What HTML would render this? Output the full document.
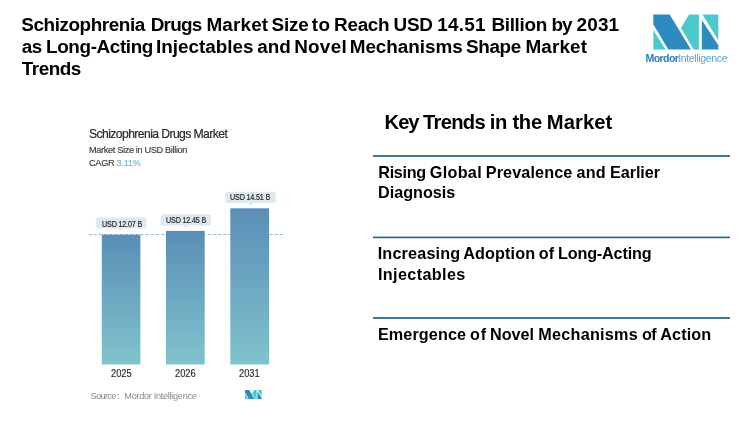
<!DOCTYPE html>
<html>
<head>
<meta charset="utf-8">
<style>
*{margin:0;padding:0;box-sizing:border-box}
html,body{width:750px;height:426px;overflow:hidden;background:#fff}
body{position:relative;font-family:"Liberation Sans",sans-serif}
.a{position:absolute;white-space:nowrap;line-height:1}
.t{font-weight:700;font-size:18.9px;color:#000}
.k{font-weight:700;font-size:20.2px;color:#000;letter-spacing:-0.45px}
.it{font-weight:700;font-size:16.2px;color:#000;left:378.6px}
.sep{position:absolute;left:373px;width:357px;height:2px;background:#3c7b9b}
.lt{position:absolute;font-size:8.6px;color:#2a2a2a;-webkit-text-stroke:0.2px #2a2a2a;line-height:1;letter-spacing:-0.2px;white-space:nowrap;transform:scaleX(0.835);transform-origin:0 0}
.yr{position:absolute;font-size:10px;color:#2a2a2a;-webkit-text-stroke:0.15px #2a2a2a;line-height:1;letter-spacing:0px;transform:scaleX(0.93);transform-origin:0 0}
</style>
</head>
<body>
<div id="wrap" style="position:absolute;left:0;top:0;width:750px;height:426px;will-change:transform">
<!-- Title -->
<span id="t1_0" class="a t" style="left:21.30px;top:15.9px;letter-spacing:-0.429px">Schizophrenia</span>
<span id="t1_1" class="a t" style="left:150.70px;top:15.9px;letter-spacing:-0.724px">Drugs</span>
<span id="t1_2" class="a t" style="left:206.39px;top:15.9px;letter-spacing:0.169px">Market</span>
<span id="t1_3" class="a t" style="left:271.50px;top:15.9px;letter-spacing:-0.212px">Size</span>
<span id="t1_4" class="a t" style="left:311.78px;top:15.9px;letter-spacing:0.340px">to</span>
<span id="t1_5" class="a t" style="left:334.00px;top:15.9px;letter-spacing:-0.260px">Reach</span>
<span id="t1_6" class="a t" style="left:393.40px;top:15.9px;letter-spacing:-0.136px">USD</span>
<span id="t1_7" class="a t" style="left:437.36px;top:15.9px;letter-spacing:0.194px">14.51</span>
<span id="t1_8" class="a t" style="left:491.39px;top:15.9px;letter-spacing:-0.309px">Billion</span>
<span id="t1_9" class="a t" style="left:551.49px;top:15.9px;letter-spacing:-1.000px">by</span>
<span id="t1_10" class="a t" style="left:576.42px;top:15.9px;letter-spacing:0.231px">2031</span>
<span id="t2_0" class="a t" style="left:21.79px;top:38.0px;letter-spacing:-0.636px">as</span>
<span id="t2_1" class="a t" style="left:46.00px;top:38.0px;letter-spacing:-0.382px">Long-Acting</span>
<span id="t2_2" class="a t" style="left:155.96px;top:38.0px;letter-spacing:-0.014px">Injectables</span>
<span id="t2_3" class="a t" style="left:257.35px;top:38.0px;letter-spacing:-0.124px">and</span>
<span id="t2_4" class="a t" style="left:294.17px;top:38.0px;letter-spacing:0.264px">Novel</span>
<span id="t2_5" class="a t" style="left:349.70px;top:38.0px;letter-spacing:-0.034px">Mechanisms</span>
<span id="t2_6" class="a t" style="left:466.05px;top:38.0px;letter-spacing:-0.398px">Shape</span>
<span id="t2_7" class="a t" style="left:525.39px;top:38.0px;letter-spacing:0.145px">Market</span>
<span id="t3_0" class="a t" style="left:21.83px;top:60.1px;letter-spacing:-0.481px">Trends</span>
<span id="k_0" class="a k" style="left:384.56px;top:111.7px;letter-spacing:-1.000px">Key</span>
<span id="k_1" class="a k" style="left:422.97px;top:111.7px;letter-spacing:-0.692px">Trends</span>
<span id="k_2" class="a k" style="left:489.74px;top:111.7px;letter-spacing:-0.354px">in</span>
<span id="k_3" class="a k" style="left:512.44px;top:111.7px;letter-spacing:-0.302px">the</span>
<span id="k_4" class="a k" style="left:546.84px;top:111.7px;letter-spacing:0.064px">Market</span>
<span id="i1a_0" class="a it" style="left:378.27px;top:163.5px;letter-spacing:-0.314px">Rising</span>
<span id="i1a_1" class="a it" style="left:429.79px;top:163.5px;letter-spacing:0.301px">Global</span>
<span id="i1a_2" class="a it" style="left:485.82px;top:163.5px;letter-spacing:0.108px">Prevalence</span>
<span id="i1a_3" class="a it" style="left:576.46px;top:163.5px;letter-spacing:0.192px">and</span>
<span id="i1a_4" class="a it" style="left:610.10px;top:163.5px;letter-spacing:-0.084px">Earlier</span>
<span id="i1b_0" class="a it" style="left:377.98px;top:184.3px;letter-spacing:0.002px">Diagnosis</span>
<span id="i2a_0" class="a it" style="left:377.66px;top:245.3px;letter-spacing:0.180px">Increasing</span>
<span id="i2a_1" class="a it" style="left:463.24px;top:245.3px;letter-spacing:0.117px">Adoption</span>
<span id="i2a_2" class="a it" style="left:538.84px;top:245.3px;letter-spacing:0.024px">of</span>
<span id="i2a_3" class="a it" style="left:557.98px;top:245.3px;letter-spacing:-0.168px">Long-Acting</span>
<span id="i2b_0" class="a it" style="left:377.95px;top:265.9px;letter-spacing:0.376px">Injectables</span>
<span id="i3_0" class="a it" style="left:377.98px;top:325.7px;letter-spacing:0.102px">Emergence</span>
<span id="i3_1" class="a it" style="left:470.04px;top:325.7px;letter-spacing:0.800px">of</span>
<span id="i3_2" class="a it" style="left:489.98px;top:325.7px;letter-spacing:0.004px">Novel</span>
<span id="i3_3" class="a it" style="left:538.27px;top:325.7px;letter-spacing:0.256px">Mechanisms</span>
<span id="i3_4" class="a it" style="left:642.04px;top:325.7px;letter-spacing:-0.784px">of</span>
<span id="i3_5" class="a it" style="left:660.23px;top:325.7px;letter-spacing:0.114px">Action</span>

<!-- Logo -->
<svg class="a" style="left:0;top:0" width="750" height="70" viewBox="0 0 750 70">
  <polygon fill="#2e8bc0" points="653.3,14.6 669.7,14.6 690.9,49.5 668.3,49.5 653.3,24.2"/>
  <polygon fill="#4bc9cd" points="653.3,29.9 653.3,49.5 665.5,49.5"/>
  <polygon fill="#4bc9cd" points="689,14.6 698.9,14.6 698.9,49.5 693.7,49.5 681,28"/>
  <polygon fill="#4bc9cd" points="702.5,14.6 718.3,14.6 718.3,40.2"/>
  <polygon fill="#2e8bc0" points="701.8,20 718.3,45.3 718.3,49.5 701.8,49.5"/>
</svg>
<div class="a" style="left:645.5px;top:53.3px;font-size:10.6px;font-weight:700;color:#2f80b8;letter-spacing:-0.6px">Mordor</div>
<div class="a" style="left:678.2px;top:53.3px;font-size:10.6px;color:#5fa6cf;letter-spacing:-0.38px">Intelligence</div>

<!-- Chart header -->
<div class="a" style="left:89px;top:127.8px;font-size:12.2px;color:#2a2a2a;letter-spacing:-0.6px;-webkit-text-stroke:0.2px #2a2a2a">Schizophrenia Drugs Market</div>
<div class="a" style="left:89px;top:145.7px;font-size:9.2px;color:#3c3c3c;letter-spacing:-0.35px;-webkit-text-stroke:0.15px #3c3c3c">Market Size in USD Billion</div>
<div class="a" style="left:89px;top:159.0px;font-size:9.2px;color:#3c3c3c;letter-spacing:-0.3px;-webkit-text-stroke:0.15px #3c3c3c">CAGR <span style="color:#76b4d3;-webkit-text-stroke:0.15px #76b4d3">3.11%</span></div>

<!-- chart svg -->
<svg class="a" style="left:0;top:0" width="750" height="426" viewBox="0 0 750 426">
  <defs>
    <linearGradient id="bg" x1="0" y1="0" x2="0" y2="1">
      <stop offset="0" stop-color="#5a8eb6"/>
      <stop offset="1" stop-color="#80c3cc"/>
    </linearGradient>
    <pattern id="dp" x="88.8" y="0" width="5.17" height="426" patternUnits="userSpaceOnUse">
      <rect x="0" y="0" width="3" height="426" fill="#8cbcd3"/>
    </pattern>
  </defs>
  <rect x="88.8" y="234" width="194.2" height="1" fill="url(#dp)"/>
  <rect x="101.8" y="234.7" width="38.6" height="129.8" fill="url(#bg)"/>
  <rect x="166.0" y="230.9" width="38.7" height="133.6" fill="url(#bg)"/>
  <rect x="230.3" y="208.3" width="38.8" height="156.2" fill="url(#bg)"/>
  <g fill="#dde9ef">
    <rect x="95.8" y="217.5" width="50.6" height="11.1" rx="2"/>
    <path d="M117.9 228.5 L120.6 231.5 L123.3 228.5 Z"/>
    <rect x="160.6" y="214.3" width="50.4" height="11.1" rx="2"/>
    <path d="M183.1 225.3 L185.8 228.3 L188.5 225.3 Z"/>
    <rect x="225.3" y="191.8" width="50.5" height="11.1" rx="2"/>
    <path d="M247.8 202.8 L250.5 205.8 L253.2 202.8 Z"/>
  </g>
</svg>

<!-- labels -->
<div class="lt" style="left:101.6px;top:219.7px">USD 12.07 B</div>
<div class="lt" style="left:166px;top:216px">USD 12.45 B</div>
<div class="lt" style="left:230.3px;top:193.4px">USD 14.51 B</div>

<!-- years -->
<div class="yr" style="left:111.3px;top:369.2px">2025</div>
<div class="yr" style="left:175.3px;top:369.2px">2026</div>
<div class="yr" style="left:239.3px;top:369.2px">2031</div>

<!-- source -->
<div class="a" style="left:90.6px;top:391.8px;font-size:9.2px;color:#8a8a8a;letter-spacing:-0.68px">Source<span style="letter-spacing:-0.9px">&nbsp;</span>:</div>
<div class="a" style="left:124.3px;top:391.8px;font-size:9.2px;color:#8a8a8a;letter-spacing:-0.31px">Mordor Intelligence</div>
<svg class="a" style="left:245.2px;top:389.9px" width="16.7" height="9.1" viewBox="653.3 14.6 65 34.9" preserveAspectRatio="none">
  <polygon fill="#2e8bc0" points="653.3,14.6 669.7,14.6 690.9,49.5 668.3,49.5 653.3,24.2"/>
  <polygon fill="#4bc9cd" points="653.3,29.9 653.3,49.5 665.5,49.5"/>
  <polygon fill="#4bc9cd" points="689,14.6 698.9,14.6 698.9,49.5 693.7,49.5 681,28"/>
  <polygon fill="#4bc9cd" points="702.5,14.6 718.3,14.6 718.3,40.2"/>
  <polygon fill="#2e8bc0" points="701.8,20 718.3,45.3 718.3,49.5 701.8,49.5"/>
</svg>

<!-- Key trends -->

<div class="sep" style="top:155px"></div>
<div class="sep" style="top:236px;height:3px;background:linear-gradient(#a9c6d5 0 1px,#21648a 1px 2px,#cfdfe8 2px 3px)"></div>
<div class="sep" style="top:317px"></div>
</div>
</body>
</html>
